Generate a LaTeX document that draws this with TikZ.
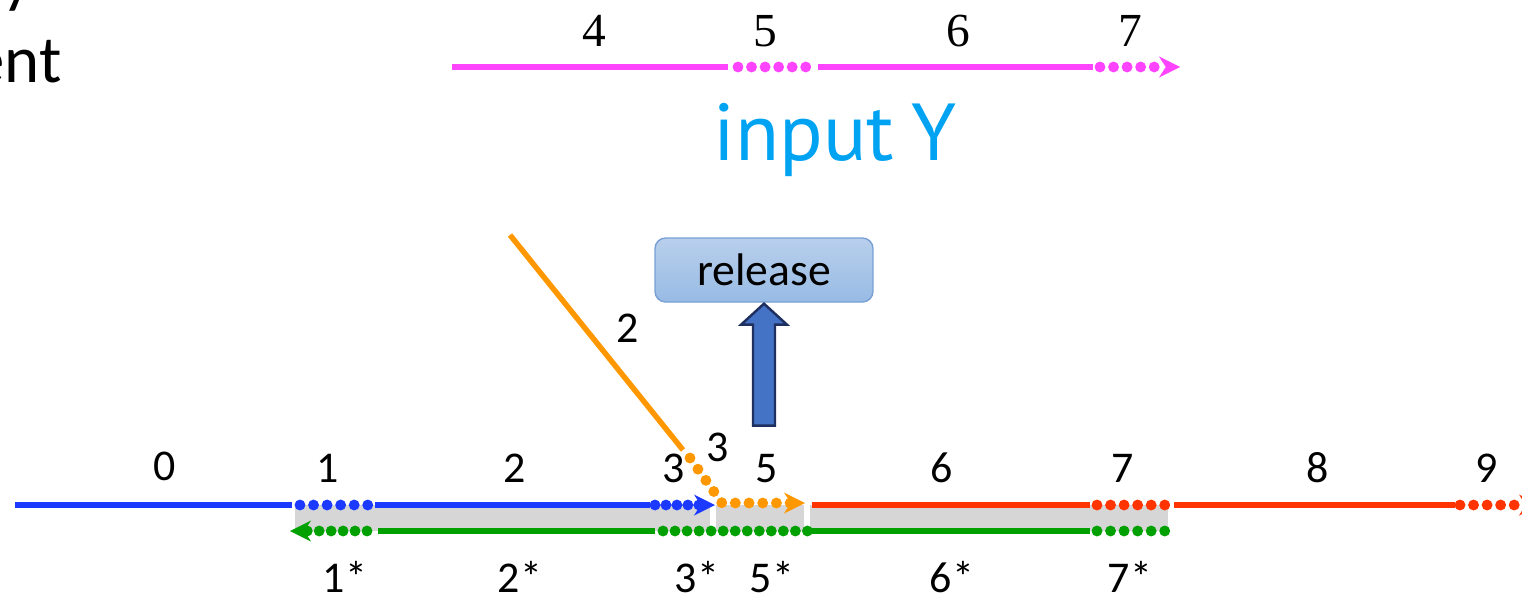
\documentclass[tikz,border=0pt]{standalone}
\usepackage{fontspec}
\setmainfont{Carlito}
\newfontfamily\titlefont{PT Sans}
\newfontfamily\tickfont{Liberation Serif}
\usetikzlibrary{arrows.meta}

\definecolor{magline}{RGB}{255,68,255}
\definecolor{blueline}{RGB}{28,58,255}
\definecolor{redline}{RGB}{255,52,0}
\definecolor{greenline}{RGB}{0,160,0}
\definecolor{orangeline}{RGB}{255,152,0}
\definecolor{bandgray}{RGB}{214,214,214}
\definecolor{titlecyan}{RGB}{0,162,242}
\definecolor{relTop}{RGB}{184,207,236}
\definecolor{relBot}{RGB}{152,187,228}
\definecolor{relBorder}{RGB}{120,160,214}
\definecolor{arrowFill}{RGB}{68,114,196}
\definecolor{arrowEdge}{RGB}{31,48,96}

\tikzset{
  solidseg/.style={line width=3.1pt},
  dotseg/.style={line width=6.2pt, line cap=round, dash pattern=on 0pt off #1},
  dotseg/.default=7.71pt,
  headed/.style={-{Stealth[length=12pt,width=12pt,line width=0pt]}},
  numlab/.style={font=\fontsize{25}{28}\selectfont, inner sep=0pt, anchor=base},
  toplab/.style={font=\tickfont\fontsize{27}{30}\selectfont, inner sep=0pt, anchor=base},
  band/.style={fill=bandgray},
  releasebox/.style={draw=relBorder, line width=0.8pt, rounded corners=6pt,
    top color=relTop, bottom color=relBot, minimum width=4.36cm,
    minimum height=1.28cm, font=\fontsize{26}{28}\selectfont},
  blockarrow/.style={fill=arrowFill, draw=arrowEdge, line width=1.4pt, line join=miter}
}

\begin{document}
\begin{tikzpicture}[x=0.02cm,y=-0.02cm]
\useasboundingbox (0,0) rectangle (1522,599);

% running text at the left edge
\node[font=\fontsize{38}{44}\selectfont, inner sep=0pt, anchor=base west] (txtA) at (2,0) {y};
\node[font=\fontsize{38}{44}\selectfont, inner sep=0pt, anchor=base east] (txtB) at (62,82) {ent};

% ---------- input Y ----------
\coordinate (m0) at (452,67);  \coordinate (m1) at (728,67);
\coordinate (m2) at (738,67);  \coordinate (m3) at (806,67);
\coordinate (m4) at (818,67);  \coordinate (m5) at (1093,67);
\coordinate (m6) at (1100,67); \coordinate (m7) at (1180,67);
\draw[magline, solidseg] (m0) -- (m1);
\draw[magline, dotseg] (m2) -- (m3);
\draw[magline, solidseg] (m4) -- (m5);
\draw[magline, dotseg, headed] (m6) -- (m7);

\node[toplab] (t4) at (594,46) {4};
\node[toplab] (t5) at (765,46) {5};
\node[toplab] (t6) at (958,46) {6};
\node[toplab] (t7) at (1130,46) {7};

\node[font=\titlefont\fontsize{46}{50}\selectfont, text=titlecyan, inner sep=0pt, anchor=base] (title) at (835,160) {input\kern-0.05em\ Y};

% ---------- shaded band between the two lines ----------
\fill[band] (295,505) rectangle (710,531);
\fill[band] (716,505) rectangle (804,531);
\fill[band] (810,505) rectangle (1168,531);

% ---------- blue line ----------
\coordinate (b0) at (15,505);  \coordinate (b1) at (292,505);
\coordinate (b2) at (300,505); \coordinate (b3) at (368,505);
\coordinate (b4) at (375,505); \coordinate (b5) at (650,505);
\coordinate (b6) at (655,505); \coordinate (b7) at (715,505);
\draw[blueline, solidseg] (b0) -- (b1);
\draw[blueline, dotseg] (b2) -- (b3);
\draw[blueline, solidseg] (b4) -- (b5);
\draw[blueline, dotseg=6.24pt, headed] (b6) -- (b7);

% ---------- red line ----------
\coordinate (r0) at (812,505);  \coordinate (r1) at (1090,505);
\coordinate (r2) at (1097,505); \coordinate (r3) at (1165,505);
\coordinate (r4) at (1174,505); \coordinate (r5) at (1455,505);
\coordinate (r6) at (1460,505); \coordinate (r7) at (1540,505);
\draw[redline, solidseg] (r0) -- (r1);
\draw[redline, dotseg] (r2) -- (r3);
\draw[redline, solidseg] (r4) -- (r5);
\draw[redline, dotseg, headed] (r6) -- (r7);

% ---------- green line (reverse direction) ----------
\coordinate (g0) at (367,531);  \coordinate (g1) at (290,531);
\coordinate (g2) at (378,531);  \coordinate (g3) at (655,531);
\coordinate (g4) at (663,531);  \coordinate (g5) at (808,531);
\coordinate (g6) at (812,531);  \coordinate (g7) at (1090,531);
\coordinate (g8) at (1097,531); \coordinate (g9) at (1165,531);
\draw[greenline, dotseg=6.8pt, headed] (g0) -- (g1);
\draw[greenline, solidseg] (g2) -- (g3);
\draw[greenline, dotseg=6.85pt] (g4) -- (g5);
\draw[greenline, solidseg] (g6) -- (g7);
\draw[greenline, dotseg] (g8) -- (g9);

% ---------- orange incoming line ----------
\coordinate (o0) at (510,235); \coordinate (o1) at (683,450);
\coordinate (o2) at (690,458); \coordinate (o3) at (722,503);
\coordinate (o4) at (805,503);
\draw[orangeline, solidseg] (o0) -- (o1);
\draw[orangeline, dotseg=7.8pt, headed] (o2) -- (o3) -- (o4);
\node[numlab] (ol2) at (628,342) {2};

% ---------- release box and block arrow ----------
\node[releasebox] (rel) at (764,270) {release};
\path (rel.south) ++(0,1) coordinate (atip);
\draw[blockarrow] (atip) -- ++(23,21) -- ++(-12,0) -- ++(0,101) -- ++(-22,0)
  -- ++(0,-101) -- ++(-12,0) -- cycle;

% ---------- labels above the lines ----------
\node[numlab] (l0) at (165,480) {0};
\node[numlab] (l1) at (328,482) {1};
\node[numlab] (l2) at (515,482) {2};
\node[numlab] (l3) at (674,482) {3};
\node[numlab] (l3b) at (718,461) {3};
\node[numlab] (l5) at (767,482) {5};
\node[numlab] (l6) at (942,482) {6};
\node[numlab] (l7) at (1123,482) {7};
\node[numlab] (l8) at (1318,482) {8};
\node[numlab] (l9) at (1487,482) {9};

% ---------- labels below the lines ----------
\node[numlab] (s1) at (345,592) {1*};
\node[numlab] (s2) at (520,592) {2*};
\node[numlab] (s3) at (697,592) {3*};
\node[numlab] (s5) at (772,592) {5*};
\node[numlab] (s6) at (952,592) {6*};
\node[numlab] (s7) at (1130,592) {7*};
\end{tikzpicture}
\end{document}
